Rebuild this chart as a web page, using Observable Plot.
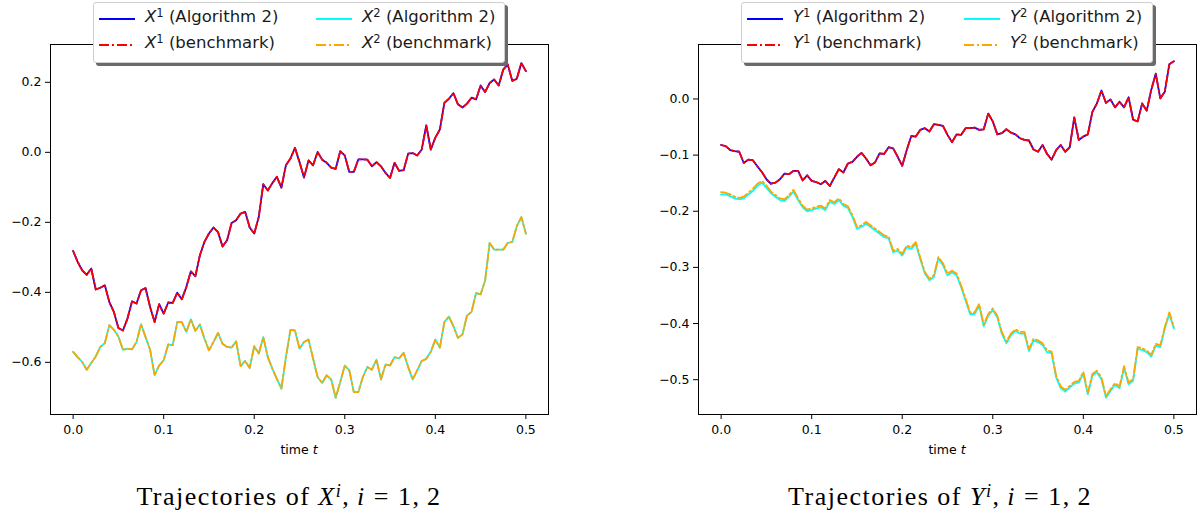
<!DOCTYPE html>
<html>
<head>
<meta charset="utf-8">
<script src="https://cdn.jsdelivr.net/npm/d3@7"></script>
<script src="https://cdn.jsdelivr.net/npm/@observablehq/plot@0.6"></script>
<style>
  html, body { margin: 0; padding: 0; background: #fff; }
  #root { position: relative; width: 1199px; height: 517px; overflow: hidden; font-family: "DejaVu Sans", sans-serif; }
  .plotbox { position: absolute; top: 0; }
  .legend { position: absolute; top: 2px; width: 410px; height: 59px; background: #fff;
            border: 1px solid #cfcfcf; border-radius: 3px; box-shadow: 3px 3px 0 #6a6a6a; font-family: "DejaVu Sans"; font-size: 16.5px; color: #1a1a1a; }
  .legend .item { position: absolute; white-space: nowrap; line-height: 1; }
  .legend svg { position: absolute; }
  .caption { position: absolute; top: 484px; line-height: 1; font-family: "Liberation Serif", serif; font-size: 26px; letter-spacing: 1.5px; white-space: nowrap; transform: translateX(-50%); }
  .xlabel { position: absolute; top: 442px; font-family: "DejaVu Sans"; font-size: 12.5px; white-space: nowrap; transform: translateX(-50%); }
  sup { font-size: 70%; vertical-align: 0.45em; line-height: 0; }
</style>
</head>
<body>
<div id="root"></div>
<script>
// time grid (dt = 0.005, 101 steps)
const tGrid = d3.range(101).map(i => +(i * 0.005).toFixed(3));
const xTicks = [0, 0.1, 0.2, 0.3, 0.4, 0.5];
const yTicksLeft = [-0.6, -0.4, -0.2, 0.0, 0.2];
const yTicksRight = [-0.5, -0.4, -0.3, -0.2, -0.1, 0.0];

// Left panel: X^1, X^2
const x1Alg = [
  -0.282,-0.313,-0.337,-0.350,-0.332,-0.392,-0.387,-0.380,-0.428,-0.456,
  -0.502,-0.509,-0.475,-0.426,-0.432,-0.394,-0.388,-0.442,-0.485,-0.434,
  -0.461,-0.429,-0.430,-0.401,-0.420,-0.385,-0.340,-0.354,-0.294,-0.256,
  -0.232,-0.215,-0.228,-0.269,-0.251,-0.202,-0.194,-0.175,-0.170,-0.215,
  -0.232,-0.185,-0.091,-0.109,-0.088,-0.070,-0.101,-0.037,-0.018,0.013,
  -0.028,-0.072,-0.023,-0.037,0.001,-0.021,-0.030,-0.044,-0.047,0.003,
  -0.009,-0.056,-0.056,-0.020,-0.020,-0.021,-0.040,-0.028,-0.040,-0.059,
  -0.073,-0.030,-0.053,-0.051,-0.004,-0.002,-0.009,0.008,0.077,0.008,
  0.042,0.065,0.141,0.153,0.169,0.137,0.128,0.139,0.156,0.151,
  0.191,0.172,0.198,0.208,0.191,0.236,0.251,0.204,0.210,0.255,
  0.232
];
const x1Bench = x1Alg.slice();
const x2Alg = [
  -0.570,-0.585,-0.599,-0.621,-0.602,-0.583,-0.556,-0.545,-0.494,-0.507,
  -0.526,-0.564,-0.561,-0.563,-0.542,-0.491,-0.528,-0.564,-0.637,-0.609,
  -0.594,-0.549,-0.551,-0.485,-0.485,-0.513,-0.477,-0.510,-0.492,-0.532,
  -0.566,-0.542,-0.516,-0.547,-0.556,-0.558,-0.540,-0.611,-0.596,-0.616,
  -0.554,-0.575,-0.528,-0.585,-0.618,-0.647,-0.675,-0.585,-0.507,-0.509,
  -0.561,-0.542,-0.535,-0.589,-0.642,-0.659,-0.637,-0.649,-0.701,-0.656,
  -0.609,-0.623,-0.685,-0.685,-0.642,-0.613,-0.621,-0.592,-0.649,-0.606,
  -0.609,-0.585,-0.589,-0.573,-0.613,-0.649,-0.623,-0.596,-0.590,-0.570,
  -0.535,-0.558,-0.485,-0.469,-0.497,-0.530,-0.520,-0.466,-0.456,-0.402,
  -0.406,-0.366,-0.259,-0.278,-0.278,-0.278,-0.259,-0.256,-0.211,-0.185,
  -0.232
];
const x2Bench = x2Alg.slice();

// Right panel: Y^1, Y^2
const y1Alg = [
  -0.082,-0.084,-0.091,-0.093,-0.094,-0.114,-0.108,-0.109,-0.120,-0.130,
  -0.143,-0.151,-0.149,-0.143,-0.133,-0.134,-0.128,-0.128,-0.145,-0.136,
  -0.146,-0.148,-0.152,-0.146,-0.155,-0.140,-0.125,-0.131,-0.115,-0.112,
  -0.103,-0.096,-0.106,-0.118,-0.113,-0.097,-0.098,-0.086,-0.088,-0.103,
  -0.119,-0.091,-0.066,-0.067,-0.055,-0.052,-0.058,-0.045,-0.046,-0.048,
  -0.064,-0.077,-0.063,-0.064,-0.052,-0.052,-0.051,-0.055,-0.054,-0.026,
  -0.040,-0.063,-0.061,-0.054,-0.060,-0.063,-0.070,-0.073,-0.074,-0.090,
  -0.094,-0.082,-0.098,-0.108,-0.091,-0.082,-0.094,-0.086,-0.033,-0.073,
  -0.067,-0.063,-0.023,-0.008,0.015,-0.007,-0.001,-0.015,-0.005,-0.015,
  0.003,-0.037,-0.040,-0.008,-0.021,0.016,0.045,0.001,0.013,0.062,
  0.067
];
const y1Bench = y1Alg.slice();
const y2Alg = [
  -0.170,-0.170,-0.173,-0.177,-0.179,-0.177,-0.170,-0.164,-0.155,-0.149,
  -0.158,-0.168,-0.174,-0.180,-0.182,-0.174,-0.165,-0.180,-0.193,-0.200,
  -0.198,-0.195,-0.193,-0.198,-0.183,-0.187,-0.180,-0.190,-0.194,-0.210,
  -0.231,-0.228,-0.222,-0.228,-0.234,-0.240,-0.246,-0.248,-0.273,-0.270,
  -0.279,-0.264,-0.267,-0.258,-0.286,-0.311,-0.323,-0.317,-0.284,-0.296,
  -0.314,-0.309,-0.314,-0.335,-0.359,-0.383,-0.383,-0.368,-0.405,-0.386,
  -0.376,-0.389,-0.418,-0.435,-0.421,-0.413,-0.418,-0.418,-0.449,-0.430,
  -0.433,-0.438,-0.451,-0.453,-0.496,-0.515,-0.521,-0.514,-0.507,-0.505,
  -0.489,-0.526,-0.493,-0.487,-0.499,-0.532,-0.520,-0.509,-0.515,-0.479,
  -0.508,-0.502,-0.445,-0.447,-0.451,-0.459,-0.439,-0.442,-0.409,-0.383,
  -0.409
];
const y2Bench = [
  -0.166,-0.167,-0.170,-0.174,-0.176,-0.174,-0.167,-0.160,-0.151,-0.146,
  -0.154,-0.165,-0.171,-0.177,-0.179,-0.171,-0.162,-0.177,-0.190,-0.197,
  -0.195,-0.192,-0.190,-0.195,-0.180,-0.184,-0.177,-0.187,-0.191,-0.207,
  -0.228,-0.225,-0.219,-0.225,-0.231,-0.237,-0.243,-0.245,-0.270,-0.267,
  -0.276,-0.261,-0.264,-0.255,-0.283,-0.308,-0.320,-0.314,-0.281,-0.293,
  -0.311,-0.306,-0.311,-0.332,-0.356,-0.380,-0.380,-0.365,-0.402,-0.383,
  -0.373,-0.386,-0.415,-0.432,-0.418,-0.410,-0.415,-0.415,-0.446,-0.427,
  -0.430,-0.435,-0.448,-0.450,-0.493,-0.512,-0.518,-0.511,-0.504,-0.502,
  -0.486,-0.523,-0.490,-0.484,-0.496,-0.529,-0.517,-0.506,-0.512,-0.476,
  -0.505,-0.499,-0.442,-0.444,-0.448,-0.456,-0.436,-0.439,-0.406,-0.380,
  -0.406
];

const DASHDOT = "10,3,2,3";
const fmt = d3.format(".1f");

function panel({w, mR, yDomain, yTicks, series}) {
  const lineMarks = series.map(s =>
    Plot.line(s.values, {
      x: (d, i) => tGrid[i], y: d => d,
      stroke: s.color, strokeWidth: 1.8,
      strokeDasharray: s.dash ? DASHDOT : null,
      strokeLinejoin: "round"
    })
  );
  return Plot.plot({
    width: w, height: 470,
    marginLeft: 50, marginRight: mR, marginTop: 44, marginBottom: 56,
    style: {fontFamily: "DejaVu Sans", fontSize: "12.5px", color: "#000", background: "transparent", overflow: "visible"},
    x: {domain: [-0.025, 0.525]},
    y: {domain: yDomain},
    marks: [
      ...lineMarks,
      Plot.frame({stroke: "#000", strokeWidth: 1}),
      Plot.axisX({ticks: xTicks, tickFormat: fmt, tickSize: 5, tickPadding: 6, label: null}),
      Plot.axisY({ticks: yTicks, tickFormat: fmt, tickSize: 5, tickPadding: 4, label: null})
    ]
  });
}

const root = document.getElementById("root");

function addPanel(left, plotEl, legendItems, captionHtml, capX, labelX) {
  const box = document.createElement("div");
  box.className = "plotbox";
  box.style.left = left + "px";
  box.appendChild(plotEl);
  root.appendChild(box);

  const lg = document.createElement("div");
  lg.className = "legend";
  lg.style.left = (left + 93) + "px";
  const pos = [[5, 16], [5, 42], [222, 16], [222, 42]];
  legendItems.forEach((it, k) => {
    const [lx, ly] = pos[k];
    const svg = document.createElementNS("http://www.w3.org/2000/svg", "svg");
    svg.setAttribute("width", 36); svg.setAttribute("height", 6);
    svg.style.left = lx + "px"; svg.style.top = (ly - 3) + "px";
    const ln = document.createElementNS("http://www.w3.org/2000/svg", "line");
    ln.setAttribute("x1", 0); ln.setAttribute("x2", 36); ln.setAttribute("y1", 3); ln.setAttribute("y2", 3);
    ln.setAttribute("stroke", it.color); ln.setAttribute("stroke-width", 1.8);
    if (it.dash) ln.setAttribute("stroke-dasharray", DASHDOT);
    svg.appendChild(ln);
    lg.appendChild(svg);
    const tx = document.createElement("div");
    tx.className = "item";
    tx.style.left = (lx + 46) + "px"; tx.style.top = (ly - 10) + "px";
    tx.innerHTML = it.label;
    lg.appendChild(tx);
  });
  root.appendChild(lg);

  const xl = document.createElement("div");
  xl.className = "xlabel";
  xl.style.left = labelX + "px";
  xl.innerHTML = "time <i>t</i>";
  root.appendChild(xl);

  const cap = document.createElement("div");
  cap.className = "caption";
  cap.style.left = capX + "px";
  cap.innerHTML = captionHtml;
  root.appendChild(cap);
}

const leftSeries = [
  {values: x1Alg, color: "blue", dash: false, label: "<i>X</i><sup>1</sup> (Algorithm 2)"},
  {values: x1Bench, color: "red", dash: true, label: "<i>X</i><sup>1</sup> (benchmark)"},
  {values: x2Alg, color: "cyan", dash: false, label: "<i>X</i><sup>2</sup> (Algorithm 2)"},
  {values: x2Bench, color: "orange", dash: true, label: "<i>X</i><sup>2</sup> (benchmark)"}
];
const rightSeries = [
  {values: y1Alg, color: "blue", dash: false, label: "<i>Y</i><sup>1</sup> (Algorithm 2)"},
  {values: y1Bench, color: "red", dash: true, label: "<i>Y</i><sup>1</sup> (benchmark)"},
  {values: y2Alg, color: "cyan", dash: false, label: "<i>Y</i><sup>2</sup> (Algorithm 2)"},
  {values: y2Bench, color: "orange", dash: true, label: "<i>Y</i><sup>2</sup> (benchmark)"}
];

addPanel(0, panel({w: 560, mR: 12, yDomain: [-0.749, 0.308], yTicks: yTicksLeft, series: leftSeries}),
  leftSeries, "Trajectories of <i>X<sup>i</sup></i>,&thinsp;<i>i</i> = 1,&thinsp;2", 289, 299);
addPanel(648, panel({w: 551, mR: 3, yDomain: [-0.562, 0.097], yTicks: yTicksRight, series: rightSeries}),
  rightSeries, "Trajectories of <i>Y<sup>i</sup></i>,&thinsp;<i>i</i> = 1,&thinsp;2", 940, 947);
</script>
</body>
</html>
